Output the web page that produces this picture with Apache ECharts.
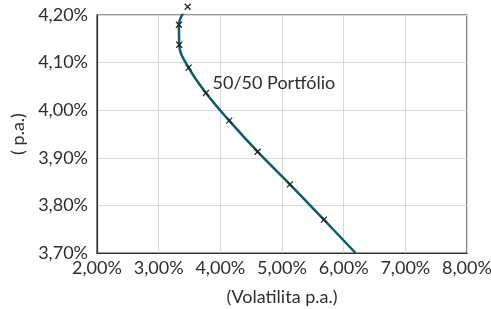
<!DOCTYPE html>
<html>
<head>
<meta charset="utf-8">
<script src="https://cdn.jsdelivr.net/npm/echarts@6.0.0/dist/echarts.min.js"></script>
<style>
  html, body { margin: 0; padding: 0; background: #fff; }
  #chart { width: 491px; height: 309px; }
</style>
</head>
<body>
<div id="chart"></div>
<script>
// volatility (x, %) and return (y, %) of the efficient frontier
const volatility = [3.47, 3.329, 3.333, 3.486, 3.767, 4.144, 4.604, 5.128, 5.679, 6.193]
const returns = [4.2174, 4.1796, 4.1376, 4.0893, 4.0361, 3.978, 3.9128, 3.8443, 3.7700, 3.70]
// which points carry an x marker
const markerIdx = [0, 1, 2, 3, 4, 5, 6, 7, 8]
const labelIdx = 4
const labelText = '50/50 Portfólio'

const FONT = 'Lato'
const TEXT = '#2e2e2e'
const LINE = '#0f5a6b'
const FS = 18

const fmt = v => v.toFixed(2).replace('.', ',') + '%'

const linePts = volatility.map((v, i) => [v, returns[i]])
const markerPts = markerIdx.map(i => {
  const p = { value: [volatility[i], returns[i]] }
  if (i === labelIdx) {
    p.label = {
      show: true,
      formatter: labelText,
      position: 'right',
      distance: 3,
      offset: [0, -10],
      color: TEXT,
      fontFamily: FONT,
      fontSize: FS
    }
  }
  return p
})

const chart = echarts.init(document.getElementById('chart'), null, { renderer: 'canvas' })
chart.setOption({
  animation: false,
  grid: {
    left: 97, right: 24, top: 15, bottom: 56,
    outerBoundsMode: 'none', containLabel: false,
    show: true, borderColor: '#333', borderWidth: 1.2
  },
  xAxis: {
    type: 'value', min: 2, max: 8, interval: 1,
    name: '(Volatilita p.a.)', nameLocation: 'middle', nameGap: 35,
    nameTextStyle: { color: TEXT, fontFamily: FONT, fontSize: FS },
    axisLine: { show: true, lineStyle: { color: '#333', width: 1.2 } },
    axisTick: { show: false },
    axisLabel: { color: TEXT, fontFamily: FONT, fontSize: FS, margin: 6, formatter: fmt },
    splitLine: { show: true, lineStyle: { color: '#d9d9d9', width: 1 } }
  },
  yAxis: {
    type: 'value', min: 3.7, max: 4.2, interval: 0.1,
    name: '( p.a.)', nameLocation: 'middle', nameGap: 70,
    nameTextStyle: { color: TEXT, fontFamily: FONT, fontSize: FS },
    axisLine: { show: true, lineStyle: { color: '#333', width: 1.2 } },
    axisTick: { show: false },
    axisLabel: { color: TEXT, fontFamily: FONT, fontSize: FS, margin: 9, formatter: fmt },
    splitLine: { show: true, lineStyle: { color: '#d9d9d9', width: 1 } }
  },
  series: [
    {
      type: 'line',
      data: linePts,
      smooth: 0.4,
      showSymbol: false,
      clip: true,
      lineStyle: { color: LINE, width: 2.5 }
    },
    {
      type: 'scatter',
      data: markerPts,
      clip: false,
      symbol: 'path://M0,0L10,10M10,0L0,10',
      symbolSize: 6,
      itemStyle: { color: 'rgba(0,0,0,0)', borderColor: '#222', borderWidth: 1.2, opacity: 1 },
      z: 3
    }
  ]
})
</script>
</body>
</html>
